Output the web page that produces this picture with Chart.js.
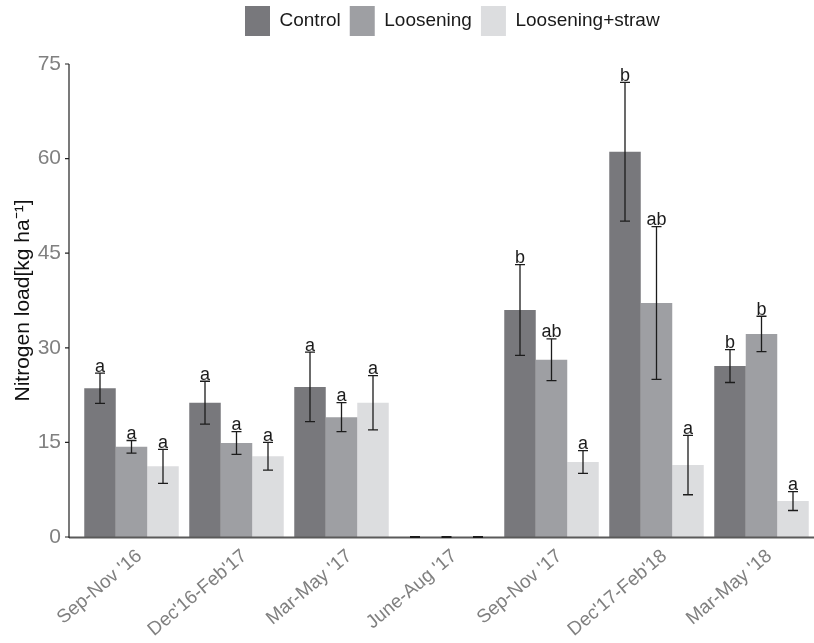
<!DOCTYPE html>
<html>
<head>
<meta charset="utf-8">
<title>Nitrogen load by season</title>
<script src="https://cdn.jsdelivr.net/npm/chart.js@4.4.1/dist/chart.umd.min.js"></script>
<style>
  html, body { margin: 0; padding: 0; background: #ffffff; }
  #wrap { width: 814px; height: 643px; }
</style>
</head>
<body>
<div id="wrap"><canvas id="chart" width="814" height="643"></canvas></div>
<script>
// Seasons on the x axis
const seasons = ["Sep-Nov '16", "Dec'16-Feb'17", "Mar-May '17", "June-Aug '17", "Sep-Nov '17", "Dec'17-Feb'18", "Mar-May '18"];

// Mean nitrogen load (kg ha-1) per treatment
const controlLoad    = [23.6, 21.3, 23.8, 0, 36.0, 61.1, 27.1];
const looseningLoad  = [14.3, 14.9, 19.0, 0, 28.1, 37.1, 32.2];
const strawLoad      = [11.2, 12.8, 21.3, 0, 11.9, 11.4, 5.7];

// Standard errors (symmetric error bars)
const controlErr     = [2.4, 3.4, 5.5, 0, 7.2, 11.0, 2.6];
const looseningErr   = [1.0, 1.8, 2.3, 0, 3.3, 12.1, 2.8];
const strawErr       = [2.7, 2.2, 4.3, 0, 1.8, 4.7, 1.5];

// Significance letters above each bar
const controlLetters   = ["a", "a", "a", "", "b", "b", "b"];
const looseningLetters = ["a", "a", "a", "", "ab", "ab", "b"];
const strawLetters     = ["a", "a", "a", "", "a", "a", "a"];

// Y axis ticks
const yTicks = [0, 15, 30, 45, 60, 75];

const FONT = "'Liberation Sans', Arial, Helvetica, sans-serif";
const AXIS_X = 69;      // where the y axis line sits (left of the bar panel)

// Error bars, letters and the axis lines
const errorBarPlugin = {
  id: 'errorBars',
  afterDatasetsDraw(chart) {
    const ctx = chart.ctx;
    const y = chart.scales.y;
    const area = chart.chartArea;
    ctx.save();

    // x axis line
    ctx.strokeStyle = '#5a5a5a';
    ctx.lineWidth = 2;
    ctx.beginPath();
    ctx.moveTo(AXIS_X, area.bottom + 0.5);
    ctx.lineTo(chart.width, area.bottom + 0.5);
    ctx.stroke();

    // y axis line with short tick marks
    ctx.strokeStyle = '#222222';
    ctx.lineWidth = 1.2;
    ctx.beginPath();
    ctx.moveTo(AXIS_X, y.getPixelForValue(yTicks[yTicks.length - 1]));
    ctx.lineTo(AXIS_X, area.bottom + 1);
    yTicks.forEach(t => {
      const py = y.getPixelForValue(t);
      ctx.moveTo(AXIS_X - 4, py);
      ctx.lineTo(AXIS_X, py);
    });
    ctx.stroke();

    chart.data.datasets.forEach((ds, i) => {
      const meta = chart.getDatasetMeta(i);
      meta.data.forEach((bar, j) => {
        const v = ds.data[j];
        const e = ds.errors[j];
        const top = y.getPixelForValue(v + e);
        const bot = y.getPixelForValue(v - e);
        const cap = 5;
        ctx.strokeStyle = '#1c1c1c';
        ctx.lineWidth = e === 0 ? 2.2 : 1.3;
        ctx.beginPath();
        ctx.moveTo(bar.x, top);
        ctx.lineTo(bar.x, bot);
        ctx.moveTo(bar.x - cap, top);
        ctx.lineTo(bar.x + cap, top);
        ctx.moveTo(bar.x - cap, bot);
        ctx.lineTo(bar.x + cap, bot);
        ctx.stroke();

        const letter = ds.letters[j];
        if (letter) {
          ctx.fillStyle = '#1c1c1c';
          ctx.font = '18px ' + FONT;
          ctx.textAlign = 'center';
          ctx.textBaseline = 'alphabetic';
          ctx.fillText(letter, bar.x, top - 1.5);
        }
      });
    });
    ctx.restore();
  }
};

// Legend sits centred over the bar panel, close to the top edge
const legendPlacement = {
  id: 'legendPlacement',
  afterLayout(chart) {
    const lg = chart.legend;
    if (!lg || !lg.lineWidths || !lg.lineWidths.length) return;
    const pad = lg.options.labels.padding;
    const startX = (lg.left + pad + lg.right - lg.lineWidths[0]) / 2;
    const dx = 245 - startX;
    const dy = -3 - lg.top;
    lg.left += dx; lg.right += dx;
    lg.top += dy; lg.bottom += dy;
  }
};

new Chart(document.getElementById('chart'), {
  type: 'bar',
  data: {
    labels: seasons,
    datasets: [
      { label: 'Control', data: controlLoad, errors: controlErr, letters: controlLetters,
        backgroundColor: '#78787c', borderWidth: 0 },
      { label: 'Loosening', data: looseningLoad, errors: looseningErr, letters: looseningLetters,
        backgroundColor: '#9e9fa3', borderWidth: 0 },
      { label: 'Loosening+straw', data: strawLoad, errors: strawErr, letters: strawLetters,
        backgroundColor: '#dcdddf', borderWidth: 0 }
    ]
  },
  options: {
    responsive: false,
    animation: false,
    layout: { padding: { top: 15, right: 0, bottom: 0, left: 0 } },
    datasets: { bar: { categoryPercentage: 0.9, barPercentage: 1.0 } },
    plugins: {
      tooltip: { enabled: false },
      legend: {
        position: 'top',
        labels: {
          boxWidth: 25, boxHeight: 30, padding: 9,
          color: '#1a1a1a',
          font: { family: FONT, size: 19 }
        }
      }
    },
    scales: {
      x: {
        grid: { display: false, drawTicks: false },
        border: { display: false },
        ticks: {
          color: '#808080',
          font: { family: FONT, size: 19 },
          minRotation: 40, maxRotation: 40,
          labelOffset: 8, padding: 8
        },
        afterFit(scale) { scale.height = 106; }
      },
      y: {
        min: 0, max: 75,
        grid: { display: false, drawTicks: false },
        border: { display: false },
        afterBuildTicks(scale) { scale.ticks = yTicks.map(v => ({ value: v })); },
        ticks: {
          color: '#808080',
          font: { family: FONT, size: 21 },
          padding: 18
        },
        title: {
          display: true,
          text: 'Nitrogen load[kg ha⁻¹]',
          color: '#111111',
          font: { family: FONT, size: 21 },
          padding: { top: 11, bottom: 0 }
        },
        afterFit(scale) { scale.width = 79; }
      }
    }
  },
  plugins: [errorBarPlugin, legendPlacement]
});
</script>
</body>
</html>
